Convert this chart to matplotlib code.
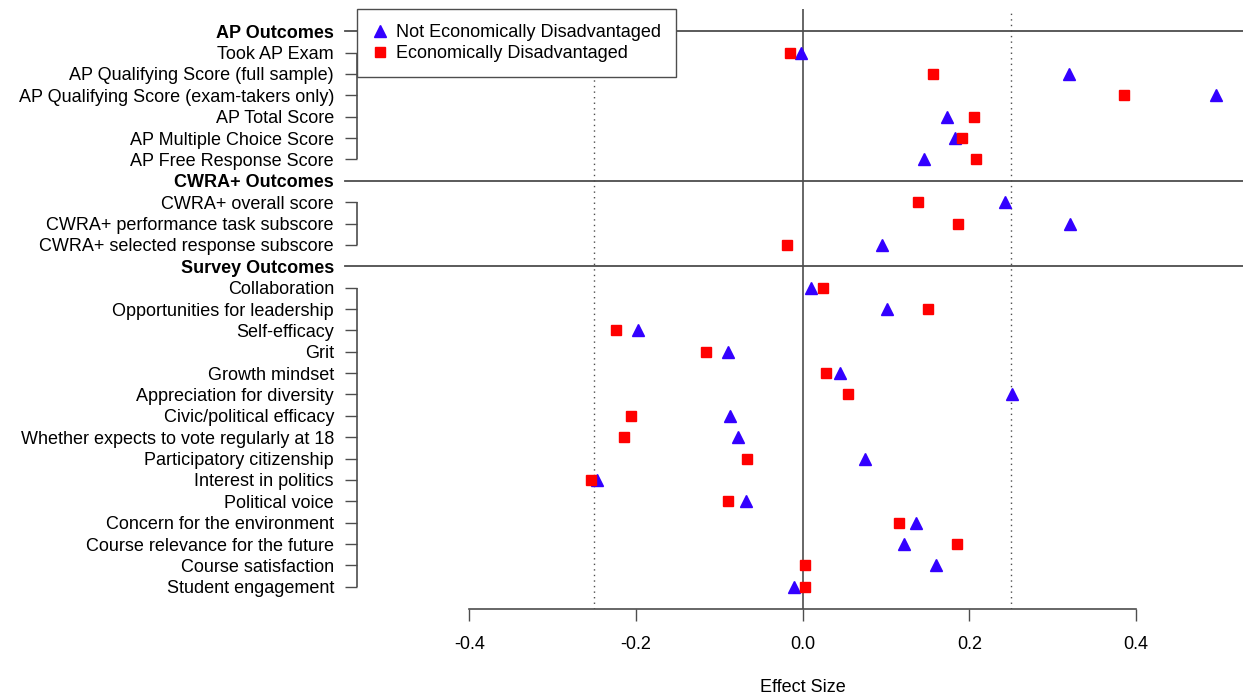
import numpy as np
import matplotlib
matplotlib.use("Agg")
import matplotlib.pyplot as plt

plt.rcParams['font.family'] = ['Liberation Sans', 'DejaVu Sans']

# rows top to bottom, headers have no values
rows = ['AP Outcomes', 'Took AP Exam', 'AP Qualifying Score (full sample)',
        'AP Qualifying Score (exam-takers only)', 'AP Total Score',
        'AP Multiple Choice Score', 'AP Free Response Score',
        'CWRA+ Outcomes', 'CWRA+ overall score', 'CWRA+ performance task subscore',
        'CWRA+ selected response subscore',
        'Survey Outcomes', 'Collaboration', 'Opportunities for leadership',
        'Self-efficacy', 'Grit', 'Growth mindset', 'Appreciation for diversity',
        'Civic/political efficacy', 'Whether expects to vote regularly at 18',
        'Participatory citizenship', 'Interest in politics', 'Political voice',
        'Concern for the environment', 'Course relevance for the future',
        'Course satisfaction', 'Student engagement']
headers = ['AP Outcomes', 'CWRA+ Outcomes', 'Survey Outcomes']

nan = np.nan
not_disadv = [nan, -0.002, 0.320, 0.496, 0.173, 0.183, 0.146,
              nan, 0.243, 0.321, 0.095,
              nan, 0.010, 0.101, -0.198, -0.090, 0.045, 0.251, -0.087, -0.078,
              0.075, -0.247, -0.068, 0.136, 0.121, 0.160, -0.010]
disadv = [nan, -0.015, 0.156, 0.386, 0.206, 0.191, 0.208,
          nan, 0.138, 0.186, -0.019,
          nan, 0.024, 0.150, -0.224, -0.116, 0.028, 0.054, -0.206, -0.214,
          -0.067, -0.254, -0.090, 0.116, 0.185, 0.003, 0.003]

xticks = [-0.4, -0.2, 0.0, 0.2, 0.4]

blue = '#3300ff'
red = '#ff0000'
grey = '#4d4d4d'
fs = 13

ypos = np.arange(len(rows))
n = len(rows)

fig = plt.figure(figsize=(12.43, 6.98), dpi=100)
ax = fig.add_axes([357 / 1243, 1 - 609 / 698, 886 / 1243, 600 / 698])
ax.set_xlim(-0.535, 0.5283)
ax.set_ylim(n - 1 + 1.04, -1.04)

# reference lines
ax.axvline(0, color=grey, lw=1.2, zorder=1)
for v in (-0.25, 0.25):
    ax.axvline(v, color=grey, lw=1, linestyle=(0, (1, 3)), zorder=1)

# group header lines and axis segments
hidx = [rows.index(h) for h in headers]
for i in hidx:
    ax.axhline(i, xmin=-12 / 886, xmax=1, color=grey, lw=1.3, clip_on=False, zorder=1)
bounds = hidx[1:] + [n]
x0 = ax.get_xlim()[0]
for a, b in zip(hidx, bounds):
    ax.plot([x0, x0], [a + 1, b - 1], color=grey, lw=1.2, clip_on=False,
            solid_capstyle='butt')

ax.plot(not_disadv, ypos, '^', color=blue, ms=8, ls='none',
        label='Not Economically Disadvantaged', zorder=3)
ax.plot(disadv, ypos, 's', color=red, ms=6.5, ls='none',
        label='Economically Disadvantaged', zorder=4)

# y axis labels
ax.set_yticks(ypos)
ax.set_yticklabels(rows, fontsize=fs)
ax.tick_params(axis='y', length=8.6, width=1, color=grey, pad=8)
for i, (tick, lab) in enumerate(zip(ax.yaxis.get_major_ticks(), ax.get_yticklabels())):
    if rows[i] in headers:
        tick.tick1line.set_visible(False)
        lab.set_fontweight('bold')

# x axis
ax.set_xticks(xticks)
ax.set_xticklabels([f'{t:.1f}' for t in xticks], fontsize=fs)
ax.tick_params(axis='x', length=8.6, width=1, color=grey, pad=11)
for s in ('top', 'right', 'left'):
    ax.spines[s].set_visible(False)
ax.spines['bottom'].set_bounds(-0.4, 0.4)
ax.spines['bottom'].set_color(grey)
ax.spines['bottom'].set_linewidth(1.2)
fig.text(802.7 / 1243, 1 - 688 / 698, 'Effect Size', ha='center', va='center', fontsize=fs)

leg = ax.legend(loc='upper left', bbox_to_anchor=(0, 1), borderaxespad=0,
                fontsize=fs, fancybox=False, framealpha=1, edgecolor=grey,
                handlelength=0.8, handletextpad=0.5, labelspacing=0.2,
                borderpad=0.85)
leg.get_frame().set_linewidth(1)
leg.set_zorder(10)

fig.savefig('out.png', dpi=100)
